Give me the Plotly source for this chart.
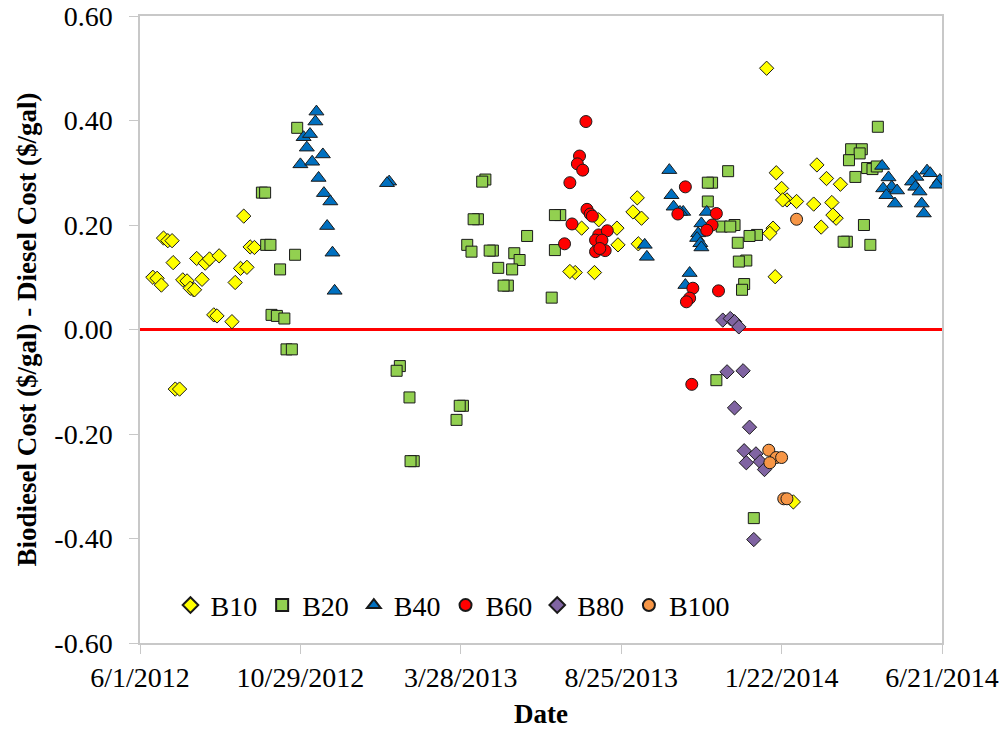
import pandas as pd
import plotly.graph_objects as go

START = pd.Timestamp("2012-06-01")

# days since 2012-06-01, cost difference ($/gal)
B10_DAYS = [22, 26, 30, 31, 12, 16, 20, 40, 44, 50, 47, 51, 58, 53, 61, 65, 74, 97, 103, 107,
            94, 100, 89, 69, 72, 86, 33, 37, 413, 465, 461, 469, 446, 447, 429, 407, 402, 425,
            466, 595, 600, 605, 601, 614, 592, 589, 594, 586, 630, 633, 642, 655, 647, 651,
            648, 637, 611]
B10_VALS = [0.175, 0.170, 0.170, 0.128, 0.100, 0.098, 0.085, 0.095, 0.093, 0.076, 0.079, 0.076,
            0.096, 0.136, 0.127, 0.135, 0.141, 0.217, 0.158, 0.157, 0.117, 0.119, 0.090, 0.028,
            0.026, 0.015, -0.114, -0.114, 0.194, 0.252, 0.225, 0.213, 0.194, 0.162, 0.210,
            0.109, 0.111, 0.109, 0.164, 0.300, 0.270, 0.248, 0.248, 0.245, 0.194, 0.184, 0.101,
            0.500, 0.240, 0.315, 0.289, 0.278, 0.243, 0.213, 0.219, 0.196, -0.330]

B20_DAYS = [114, 117, 118, 122, 145, 131, 123, 128, 135, 137, 142, 147, 323, 320, 316, 312, 306,
            310, 330, 327, 362, 350, 355, 335, 348, 344, 340, 243, 240, 252, 302, 299, 296, 256,
            253, 393, 388, 388, 385, 550, 535, 531, 531, 544, 556, 552, 559, 577, 570, 567, 560,
            565, 563, 539, 574, 690, 665, 675, 673, 663, 680, 685, 689, 669, 677, 661, 658, 683]
B20_VALS = [0.262, 0.262, 0.162, 0.162, 0.143, 0.115, 0.028, 0.026, 0.021, -0.038, -0.038, 0.386,
            0.287, 0.283, 0.211, 0.211, 0.162, 0.149, 0.151, 0.151, 0.179, 0.146, 0.133, 0.118,
            0.115, 0.084, 0.084, -0.070, -0.079, -0.130, -0.146, -0.146, -0.173, -0.252, -0.252,
            0.219, 0.219, 0.152, 0.061, 0.303, 0.281, 0.281, 0.245, 0.197, 0.200, 0.197, 0.166,
            0.181, 0.179, 0.132, 0.130, 0.087, 0.076, -0.097, -0.361, 0.388, 0.345, 0.345, 0.337,
            0.324, 0.309, 0.307, 0.312, 0.292, 0.200, 0.168, 0.168, 0.162]

B40_DAYS = [165, 164, 153, 159, 156, 171, 150, 161, 167, 172, 178, 175, 180, 182, 233, 231, 495,
            497, 499, 508, 505, 472, 474, 514, 510, 530, 525, 522, 521, 524, 525, 694, 700, 703,
            708, 695, 698, 706, 736, 739, 726, 722, 725, 729, 748, 745, 731, 733]
B40_VALS = [0.417, 0.398, 0.368, 0.374, 0.348, 0.335, 0.316, 0.321, 0.290, 0.261, 0.245, 0.198,
            0.147, 0.074, 0.283, 0.280, 0.305, 0.257, 0.235, 0.225, 0.225, 0.162, 0.139, 0.108,
            0.085, 0.225, 0.203, 0.184, 0.175, 0.165, 0.157, 0.313, 0.291, 0.273, 0.266, 0.270,
            0.257, 0.241, 0.304, 0.299, 0.292, 0.283, 0.273, 0.264, 0.286, 0.277, 0.241, 0.222]

B60_DAYS = [417, 411, 409, 414, 402, 418, 421, 423, 404, 397, 429, 426, 437, 432, 426, 435, 430,
            510, 503, 539, 535, 530, 517, 514, 511, 541, 516]
B60_VALS = [0.398, 0.332, 0.317, 0.305, 0.281, 0.230, 0.221, 0.217, 0.202, 0.164, 0.181, 0.171,
            0.189, 0.171, 0.149, 0.151, 0.155, 0.273, 0.221, 0.222, 0.200, 0.190, 0.079, 0.060,
            0.053, 0.074, -0.105]

B80_DAYS = [545, 552, 556, 560, 549, 564, 556, 570, 565, 576, 567, 580, 584, 574]
B80_VALS = [0.018, 0.021, 0.015, 0.005, -0.081, -0.079, -0.150, -0.187, -0.232, -0.238, -0.255,
            -0.253, -0.268, -0.402]

B100_DAYS = [588, 595, 600, 589, 602, 605, 614]
B100_VALS = [-0.231, -0.245, -0.245, -0.255, -0.324, -0.324, 0.211]

SERIES = ["B10", "B20", "B40", "B60", "B80", "B100"]
Y_TICKS = [-0.6, -0.4, -0.2, 0.0, 0.2, 0.4, 0.6]
X_END = "2014-06-21"
ZERO_LEVEL = 0.0

series_data = [
    (B10_DAYS, B10_VALS, "diamond", "#FFFF00", 11),
    (B20_DAYS, B20_VALS, "square", "#92D050", 11),
    (B40_DAYS, B40_VALS, "triangle-up", "#0070C0", 13),
    (B60_DAYS, B60_VALS, "circle", "#FF0000", 12),
    (B80_DAYS, B80_VALS, "diamond", "#8064A2", 11),
    (B100_DAYS, B100_VALS, "circle", "#F79646", 12),
]

FONT = "Liberation Serif, Times New Roman, serif"

fig = go.Figure()
for name, (days, vals, sym, col, sz) in zip(SERIES, series_data):
    fig.add_trace(go.Scatter(
        x=START + pd.to_timedelta(days, unit="D"), y=vals, mode="markers", name=name,
        marker=dict(symbol=sym, color=col, size=sz, line=dict(color="#1a1a1a", width=1)),
    ))

fig.add_hline(y=ZERO_LEVEL, line=dict(color="#FF0000", width=3), layer="below")

fig.update_layout(
    width=1006, height=729,
    margin=dict(l=140, r=64, t=16, b=86),
    paper_bgcolor="white", plot_bgcolor="white",
    font=dict(family=FONT, size=28, color="#000000"),
    showlegend=True,
    legend=dict(orientation="h", x=0.038, y=0.06, xanchor="left", yanchor="middle",
                bgcolor="rgba(0,0,0,0)", font=dict(size=28), itemsizing="constant"),
    xaxis=dict(
        type="date", range=[START, pd.Timestamp(X_END)], automargin=False,
        tick0=START, dtick=150 * 86400000, tickformat="%-m/%-d/%Y",
        ticklabeloverflow="allow",
        showgrid=False, zeroline=False,
        showline=True, linecolor="#C8C8C8", linewidth=1.5, mirror=True,
        ticks="outside", ticklen=9, tickcolor="#C8C8C8",
        title=dict(text="<b>Date</b>", font=dict(size=27), standoff=13),
        tickfont=dict(size=28),
    ),
    yaxis=dict(
        range=[-0.6, 0.6], tickvals=Y_TICKS, ticktext=[f"{v:.2f}" for v in Y_TICKS],
        automargin=False, ticklabelstandoff=11, ticklabeloverflow="allow",
        showgrid=False, zeroline=False,
        showline=True, linecolor="#C8C8C8", linewidth=1.5, mirror=True,
        ticks="outside", ticklen=9, tickcolor="#C8C8C8",
        title=dict(text="<b>Biodiesel Cost ($/gal) - Diesel Cost ($/gal)</b>", font=dict(size=27), standoff=10),
        tickfont=dict(size=28),
    ),
)

fig.write_html("out.html", config={"displayModeBar": False},
               post_script="document.body.style.margin='0px';")
